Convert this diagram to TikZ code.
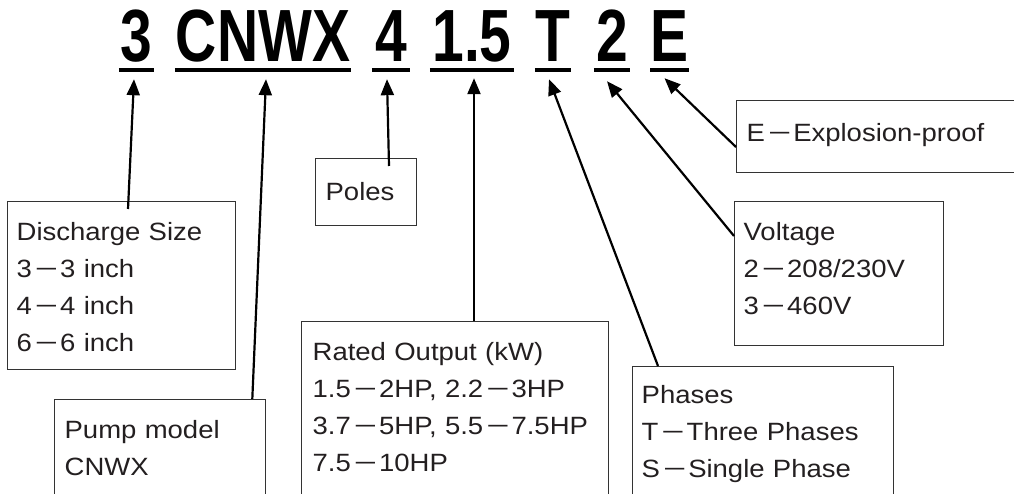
\documentclass[tikz,border=0pt]{standalone}
\usepackage{fontspec}
\usepackage{graphicx}
\usetikzlibrary{arrows.meta,calc}
\newfontfamily\codefont[FakeStretch=0.77]{Liberation Sans}
\newfontfamily\labelfont[FakeStretch=1.1]{Liberation Sans}
\newcommand{\ldash}{\kern5pt\raisebox{2.5pt}{\scalebox{0.7}[1]{—}}\kern4pt}
\definecolor{inkgray}{RGB}{35,31,32}
\definecolor{boxgray}{RGB}{51,51,51}
\begin{document}
\begin{tikzpicture}[x=1pt,y=1pt,
	code/.style={font=\codefont\bfseries\fontsize{74}{74}\selectfont,text=black,anchor=base,inner xsep=0pt,inner ysep=0pt,text depth=8pt},
	uline/.style={line width=4pt,black},
	infobox/.style={draw=boxgray,line width=1.3pt,anchor=north west,align=left,inner ysep=0pt,font=\labelfont\fontsize{25}{37}\selectfont,text=inkgray},
	arr/.style={-{Triangle[width=13pt,length=16pt]},line width=2.2pt,black}]
		\useasboundingbox (0,0) rectangle (1014,493);
		\clip (0,0) rectangle (1014,493);
		\node[code,minimum width=35pt] (c3) at (136.5,431) {3};
		\node[code,minimum width=176pt] (cnwx) at (263,431) {CNWX};
		\node[code,minimum width=38pt] (c4) at (391,431) {4};
		\node[code,minimum width=84pt] (c15) at (472,431) {1.5};
		\node[code,minimum width=36pt] (cT) at (553,431) {T};
		\node[code,minimum width=36pt] (c2) at (612,431) {2};
		\node[code,minimum width=37pt] (cE) at (669.5,431) {E};
		\foreach \n in {c3,cnwx,c4,c15,cT,c2,cE}
			\draw[uline] (\n.south west) -- (\n.south east);
		\node[infobox,inner xsep=9pt,text width=210pt] (dis) at (7,292) {\rule{0pt}{39pt}Discharge~Size\\3\ldash 3~inch\\4\ldash 4~inch\\6\ldash 6~inch\rule[-18pt]{0pt}{18pt}};
		\node[infobox,inner xsep=10pt,text width=191pt] (pump) at (54,94) {\rule{0pt}{39pt}Pump~model\\CNWX\rule[-80pt]{0pt}{80pt}};
		\node[infobox,inner xsep=10pt,text width=81pt] (poles) at (315,335) {\rule{0pt}{42pt}Poles\rule[-25pt]{0pt}{25pt}};
		\node[infobox,inner xsep=11pt,text width=285pt] (rated) at (301,172) {\rule{0pt}{39pt}Rated~Output~(kW)\\1.5\ldash 2HP,~2.2\ldash 3HP\\3.7\ldash 5HP,~5.5\ldash 7.5HP\\7.5\ldash 10HP\rule[-60pt]{0pt}{60pt}};
		\node[infobox,inner xsep=9pt,text width=243pt] (phases) at (632,127) {\rule{0pt}{37pt}Phases\\T\ldash Three~Phases\\S\ldash Single~Phase\rule[-60pt]{0pt}{60pt}};
		\node[infobox,inner xsep=9pt,text width=191pt] (volt) at (734,292) {\rule{0pt}{39pt}Voltage\\2\ldash 208/230V\\3\ldash 460V\rule[-31pt]{0pt}{31pt}};
		\node[infobox,inner xsep=10pt,text width=270pt] (expl) at (736,393) {\rule{0pt}{41pt}E\ldash Explosion-proof\rule[-31pt]{0pt}{31pt}};
		\draw[arr] ($(dis.north west)+(121,-8)$) -- ($(c3.south)+(-2.5,-9)$);
		\draw[arr] ($(pump.north east)+(-14,0)$) -- ($(cnwx.south)+(3,-9)$);
		\draw[arr] ($(poles.north west)+(74,-8)$) -- ($(c4.south)+(-4,-9)$);
		\draw[arr] ($(rated.north west)+(173,0)$) -- ($(c15.south)+(2,-8)$);
		\draw[arr] ($(phases.north west)+(26,0)$) -- ($(cT.south)+(-4,-9)$);
		\draw[arr] ($(volt.north west)+(0,-35)$) -- ($(c2.south)+(-5,-11)$);
		\draw[arr] ($(expl.north west)+(0,-47)$) -- ($(cE.south)+(-5,-8)$);
\end{tikzpicture}
\end{document}
